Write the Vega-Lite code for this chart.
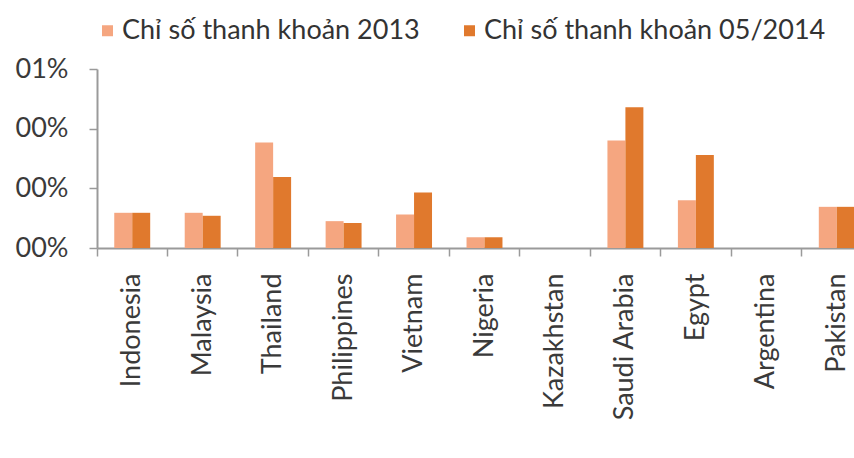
{
  "$schema": "https://vega.github.io/schema/vega-lite/v6.json",
  "autosize": {"type": "none"},
  "padding": {"left": 97, "top": 69, "right": 0, "bottom": 210},
  "width": 775,
  "height": 179,
  "background": "white",
  "config": {"view": {"stroke": null}},
  "data": {"values": [
    {"country": "Indonesia", "series": "Chỉ số thanh khoản 2013", "value": 0.59},
    {"country": "Indonesia", "series": "Chỉ số thanh khoản 05/2014", "value": 0.59},
    {"country": "Malaysia", "series": "Chỉ số thanh khoản 2013", "value": 0.59},
    {"country": "Malaysia", "series": "Chỉ số thanh khoản 05/2014", "value": 0.54},
    {"country": "Thailand", "series": "Chỉ số thanh khoản 2013", "value": 1.77},
    {"country": "Thailand", "series": "Chỉ số thanh khoản 05/2014", "value": 1.19},
    {"country": "Philippines", "series": "Chỉ số thanh khoản 2013", "value": 0.45},
    {"country": "Philippines", "series": "Chỉ số thanh khoản 05/2014", "value": 0.42},
    {"country": "Vietnam", "series": "Chỉ số thanh khoản 2013", "value": 0.56},
    {"country": "Vietnam", "series": "Chỉ số thanh khoản 05/2014", "value": 0.93},
    {"country": "Nigeria", "series": "Chỉ số thanh khoản 2013", "value": 0.18},
    {"country": "Nigeria", "series": "Chỉ số thanh khoản 05/2014", "value": 0.18},
    {"country": "Kazakhstan", "series": "Chỉ số thanh khoản 2013", "value": 0},
    {"country": "Kazakhstan", "series": "Chỉ số thanh khoản 05/2014", "value": 0},
    {"country": "Saudi Arabia", "series": "Chỉ số thanh khoản 2013", "value": 1.8},
    {"country": "Saudi Arabia", "series": "Chỉ số thanh khoản 05/2014", "value": 2.36},
    {"country": "Egypt", "series": "Chỉ số thanh khoản 2013", "value": 0.8},
    {"country": "Egypt", "series": "Chỉ số thanh khoản 05/2014", "value": 1.56},
    {"country": "Argentina", "series": "Chỉ số thanh khoản 2013", "value": 0},
    {"country": "Argentina", "series": "Chỉ số thanh khoản 05/2014", "value": 0},
    {"country": "Pakistan", "series": "Chỉ số thanh khoản 2013", "value": 0.69},
    {"country": "Pakistan", "series": "Chỉ số thanh khoản 05/2014", "value": 0.69}
  ]},
  "mark": {"type": "bar"},
  "encoding": {
    "x": {
      "field": "country", "type": "nominal", "sort": null,
      "scale": {"paddingInner": 0, "paddingOuter": 0},
      "axis": {
        "title": null, "bandPosition": 0, "labelAngle": -90,
        "labelFont": "Lato", "labelFontSize": 27, "labelColor": "#3a3a3a",
        "labelPadding": 17, "domainColor": "#9a9a9a", "domainWidth": 2,
        "tickColor": "#9a9a9a", "tickWidth": 1.5, "tickSize": 8
      }
    },
    "xOffset": {
      "field": "series", "type": "nominal",
      "sort": ["Chỉ số thanh khoản 2013", "Chỉ số thanh khoản 05/2014"],
      "scale": {"paddingInner": 0, "paddingOuter": 0.96}
    },
    "y": {
      "field": "value", "type": "quantitative",
      "scale": {"domain": [0, 3], "nice": false},
      "axis": {
        "title": null, "values": [0, 1, 2, 3], "grid": false,
        "labelExpr": "datum.value == 3 ? '01%' : '00%'",
        "labelFont": "Lato", "labelFontSize": 27, "labelColor": "#3a3a3a",
        "labelPadding": 21, "domainColor": "#9a9a9a", "domainWidth": 2,
        "tickColor": "#9a9a9a", "tickWidth": 1.5, "tickSize": 8
      }
    },
    "color": {
      "field": "series", "type": "nominal",
      "scale": {
        "domain": ["Chỉ số thanh khoản 2013", "Chỉ số thanh khoản 05/2014"],
        "range": ["#F5A680", "#E0792D"]
      },
      "legend": {
        "title": null, "orient": "none", "direction": "horizontal",
        "legendX": -3, "legendY": -52,
        "symbolType": "square", "symbolSize": 121, "symbolStrokeWidth": 0,
        "labelFont": "Lato", "labelFontSize": 27, "labelColor": "#333333",
        "labelOffset": 1, "columnPadding": 36, "labelLimit": 400
      }
    }
  }
}
